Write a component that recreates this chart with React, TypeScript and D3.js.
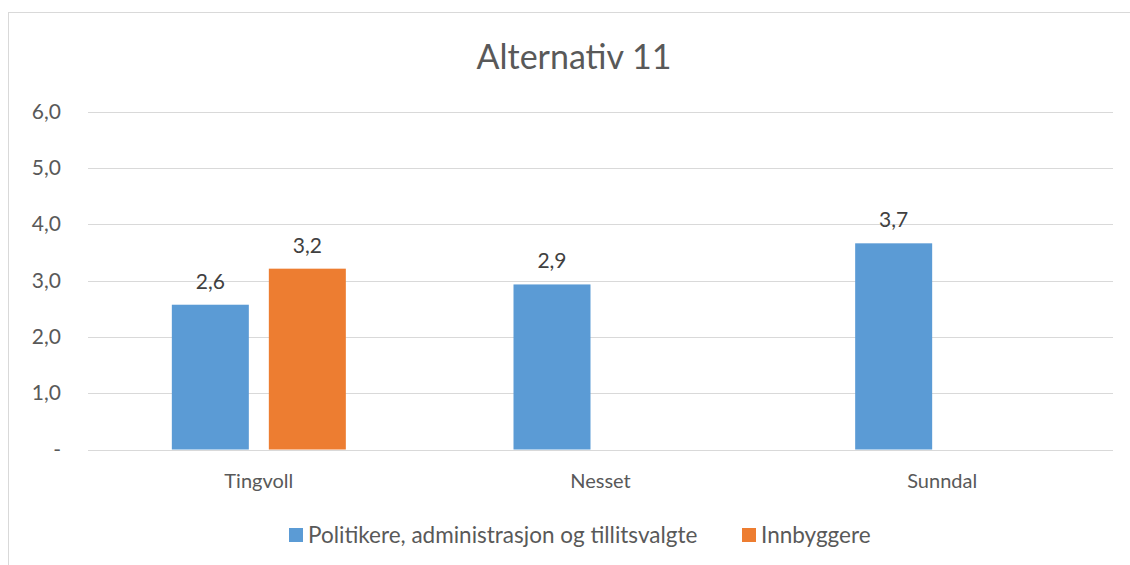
import React from "react";
import * as d3 from "d3";

const title = "Alternativ 11";
const categories = ["Tingvoll", "Nesset", "Sunndal"];
const seriesNames = ["Politikere, administrasjon og tillitsvalgte", "Innbyggere"];
const politikere: (number | null)[] = [2.57, 2.93, 3.66];
const innbyggere: (number | null)[] = [3.21, null, null];
const yTicks = [0, 1, 2, 3, 4, 5, 6];
const colors = ["#5B9BD5", "#ED7D31"];

const W = 1130;
const H = 565;
const left = 88;
const right = 1113;
const top = 111.5;
const bottom = 449.5;
const font = "Lato, 'Open Sans', sans-serif";
const textColor = "#595959";

export default function App() {
  const y = d3.scaleLinear().domain([0, 6]).range([bottom, top]);
  const x0 = d3.scaleBand<string>().domain(categories).range([left, right]).paddingInner(0).paddingOuter(0);
  const groupW = 174;
  const x1 = d3.scaleBand<string>().domain(seriesNames).range([0, groupW]).paddingInner(20 / 97).paddingOuter(0);
  const series = [politikere, innbyggere];
  const fmt = (v: number) => d3.format(".1f")(v).replace(".", ",");

  return (
    <svg width={W} height={H} style={{ position: "absolute", left: 0, top: 0 }}>
      <rect x={0} y={0} width={W} height={H} fill="#fff" />
      <rect x={8.5} y={12.5} width={W + 20} height={H + 20} fill="none" stroke="#d9d9d9" strokeWidth={1} />
      <text x={574} y={69} textAnchor="middle" fontFamily={font} fontSize={34} fill={textColor}>
        {title}
      </text>
      {yTicks.map((t) => (
        <g key={t}>
          <line x1={left} x2={right} y1={Math.round(y(t)) + 0.5} y2={Math.round(y(t)) + 0.5} stroke="#d9d9d9" strokeWidth={1.2} />
          <text x={61} y={y(t) + 7} textAnchor="end" fontFamily={font} fontSize={21} fill={textColor}>
            {t === 0 ? "-" : fmt(t)}
          </text>
        </g>
      ))}
      {categories.map((c, i) => {
        const gx = (x0(c) as number) + (x0.bandwidth() - groupW) / 2;
        return (
          <g key={c}>
            {series.map((s, si) => {
              const v = s[i];
              if (v == null) return null;
              const bx = gx + (x1(seriesNames[si]) as number);
              return (
                <g key={si}>
                  <rect x={bx} y={y(v)} width={x1.bandwidth()} height={y(0) - y(v)} fill={colors[si]} />
                  <text x={bx + x1.bandwidth() / 2} y={y(v) - 16} textAnchor="middle" fontFamily={font} fontSize={21} fill="#404040">
                    {fmt(v)}
                  </text>
                </g>
              );
            })}
            <text x={(x0(c) as number) + x0.bandwidth() / 2} y={488} textAnchor="middle" fontFamily={font} fontSize={20} fill={textColor}>
              {c}
            </text>
          </g>
        );
      })}
      <g>
        <rect x={289} y={528} width={14} height={14} fill={colors[0]} />
        <text x={308} y={543} fontFamily={font} fontSize={22.5} fill={textColor}>
          {seriesNames[0]}
        </text>
        <rect x={742} y={528} width={14} height={14} fill={colors[1]} />
        <text x={761} y={543} fontFamily={font} fontSize={22.5} fill={textColor}>
          {seriesNames[1]}
        </text>
      </g>
    </svg>
  );
}
